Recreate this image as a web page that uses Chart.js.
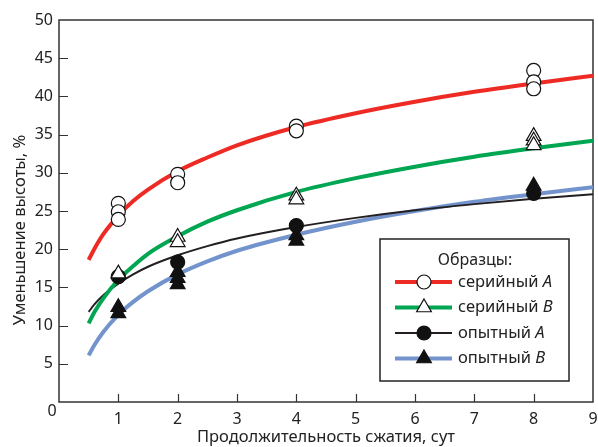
<!DOCTYPE html>
<html>
<head>
<meta charset="utf-8">
<script src="https://cdn.jsdelivr.net/npm/chart.js@4"></script>
<style>
  html, body { margin: 0; padding: 0; background: #fff; }
  #wrap { width: 598px; height: 447px; }
</style>
</head>
<body>
<div id="wrap"><canvas id="chart" width="598" height="447"></canvas></div>
<script>
// trend curves
const fitX = [0.5, 0.6, 0.75, 1, 1.25, 1.5, 2, 2.5, 3, 4, 5, 6, 7, 8, 9];
const fitSerialA = [18.6, 20.1, 22.0, 24.4, 26.3, 27.8, 30.2, 32.0, 33.6, 36.0, 37.8, 39.3, 40.6, 41.7, 42.7];
const fitSerialB = [10.3, 11.8, 13.6, 16.0, 17.8, 19.4, 21.7, 23.6, 25.1, 27.5, 29.3, 30.8, 32.1, 33.2, 34.2];
const fitExpA = [11.8, 12.8, 14.0, 15.5, 16.7, 17.7, 19.2, 20.4, 21.4, 22.9, 24.1, 25.1, 25.9, 26.6, 27.2];
const fitExpB = [6.1, 7.5, 9.2, 11.4, 13.1, 14.5, 16.7, 18.4, 19.8, 21.9, 23.6, 25.0, 26.2, 27.2, 28.1];

// measured points
const serialAX = [1, 1, 1, 2, 2, 4, 4, 8, 8, 8];
const serialAY = [26.0, 24.9, 23.9, 29.8, 28.7, 36.1, 35.5, 43.4, 41.9, 41.0];
const serialBX = [1, 2, 2, 4, 4, 8, 8, 8];
const serialBY = [16.8, 21.6, 20.9, 27.0, 26.5, 34.8, 34.2, 33.6];
const expAX = [1, 2, 4, 8];
const expAY = [16.4, 18.3, 23.1, 27.3];
const expBX = [1, 1, 2, 2, 2, 4, 4, 8];
const expBY = [12.4, 11.6, 17.0, 16.2, 15.4, 21.8, 21.1, 28.3];

const seriesNames = ['серийный ', 'серийный ', 'опытный ', 'опытный '];
const seriesLetters = ['A', 'B', 'A', 'B'];
const seriesColors = ['#ee2a24', '#00a651', '#231f20', '#7393cc'];
const lineWidths = [4, 4, 2, 4];
const markerStyles = ['circle', 'triangle', 'circle', 'triangle'];
const markerFills = ['#ffffff', '#ffffff', '#111111', '#111111'];

const FONT = '"Noto Sans", "Open Sans", sans-serif';
const toXY = (xs, ys) => xs.map((x, i) => ({ x: x, y: ys[i] }));

function pointSet(xs, ys, k) {
    return {
        label: seriesNames[k] + seriesLetters[k],
        data: toXY(xs, ys),
        showLine: false,
        pointStyle: markerStyles[k],
        pointRadius: markerStyles[k] === 'circle' ? 7 : 8.5,
        pointBackgroundColor: markerFills[k],
        pointBorderColor: '#111111',
        pointBorderWidth: 1.2,
        order: 1
    };
}

function fitSet(ys, k) {
    return {
        label: 'fit ' + k,
        data: toXY(fitX, ys),
        showLine: true,
        borderColor: seriesColors[k],
        borderWidth: lineWidths[k],
        pointRadius: 0,
        cubicInterpolationMode: 'monotone',
        fill: false,
        order: 2
    };
}

function drawMarker(ctx, style, x, y, r, fill) {
    ctx.beginPath();
    if (style === 'circle') {
        ctx.arc(x, y, r, 0, Math.PI * 2);
    } else {
        for (let i = 0; i < 3; i++) {
            const a = i * Math.PI * 2 / 3;
            const px = x + Math.sin(a) * r, py = y - Math.cos(a) * r;
            if (i === 0) ctx.moveTo(px, py); else ctx.lineTo(px, py);
        }
        ctx.closePath();
    }
    ctx.fillStyle = fill;
    ctx.fill();
    ctx.lineWidth = 1.2;
    ctx.strokeStyle = '#111111';
    ctx.stroke();
}

// frame, inward ticks, corner zero and y title
const framePlugin = {
    id: 'frame',
    beforeDatasetsDraw(chart) {
        const ctx = chart.ctx, a = chart.chartArea;
        const xs = chart.scales.x, ys = chart.scales.y;
        ctx.save();
        ctx.strokeStyle = '#333333';
        ctx.lineWidth = 1.5;
        ctx.strokeRect(a.left, a.top, a.right - a.left, a.bottom - a.top);
        ctx.lineWidth = 1.2;
        ctx.beginPath();
        ys.ticks.forEach(t => {
            if (t.value <= 0 || t.value >= 50) return;
            const py = Math.round(ys.getPixelForValue(t.value)) + 0.5;
            ctx.moveTo(a.left, py);
            ctx.lineTo(a.left + 9, py);
        });
        xs.ticks.forEach(t => {
            if (t.value <= 0 || t.value >= 9) return;
            const px = Math.round(xs.getPixelForValue(t.value)) + 0.5;
            ctx.moveTo(px, a.bottom);
            ctx.lineTo(px, a.bottom - 8);
        });
        ctx.stroke();

        ctx.fillStyle = '#222222';
        ctx.font = '16px ' + FONT;
        ctx.textAlign = 'center';
        ctx.textBaseline = 'middle';
        ctx.fillText('0', a.left - 7, a.bottom + 9);

        ctx.font = '16.5px ' + FONT;
        ctx.translate(20, 230);
        ctx.rotate(-Math.PI / 2);
        ctx.fillText('Уменьшение высоты, %', 0, 0);
        ctx.restore();
    }
};

// legend box with italic letters
const legendPlugin = {
    id: 'boxLegend',
    afterDraw(chart) {
        const ctx = chart.ctx;
        const bx = 380, by = 239, bw = 189, bh = 142;
        ctx.save();
        ctx.fillStyle = '#ffffff';
        ctx.fillRect(bx, by, bw, bh);
        ctx.strokeStyle = '#222222';
        ctx.lineWidth = 1.5;
        ctx.strokeRect(bx, by, bw, bh);

        ctx.fillStyle = '#222222';
        ctx.font = '16px ' + FONT;
        ctx.textAlign = 'center';
        ctx.textBaseline = 'middle';
        ctx.fillText('Образцы:', 475, 260);

        for (let k = 0; k < 4; k++) {
            const y = 282 + k * 25.5;
            ctx.beginPath();
            ctx.moveTo(395, y);
            ctx.lineTo(452, y);
            ctx.strokeStyle = seriesColors[k];
            ctx.lineWidth = lineWidths[k];
            ctx.stroke();
            drawMarker(ctx, markerStyles[k], 424, y, markerStyles[k] === 'circle' ? 7 : 8.5, markerFills[k]);

            ctx.fillStyle = '#222222';
            ctx.textAlign = 'left';
            ctx.font = '16.5px ' + FONT;
            ctx.fillText(seriesNames[k], 458, y);
            const w = ctx.measureText(seriesNames[k]).width;
            ctx.font = 'italic 16.5px ' + FONT;
            ctx.fillText(seriesLetters[k], 458 + w, y);
        }
        ctx.restore();
    }
};

new Chart(document.getElementById('chart').getContext('2d'), {
    type: 'scatter',
    data: {
        datasets: [
            pointSet(serialAX, serialAY, 0),
            pointSet(serialBX, serialBY, 1),
            pointSet(expAX, expAY, 2),
            pointSet(expBX, expBY, 3),
            fitSet(fitSerialA, 0),
            fitSet(fitSerialB, 1),
            fitSet(fitExpA, 2),
            fitSet(fitExpB, 3)
        ]
    },
    options: {
        responsive: false,
        animation: false,
        layout: { autoPadding: false, padding: { top: 20, right: 5, left: 0, bottom: 0 } },
        plugins: {
            legend: { display: false },
            tooltip: { enabled: false }
        },
        scales: {
            x: {
                type: 'linear',
                min: 0,
                max: 9,
                grid: { display: false, drawTicks: false },
                border: { display: false },
                ticks: {
                    stepSize: 1,
                    padding: 8,
                    color: '#222222',
                    font: { family: FONT, size: 16 },
                    callback: v => (v === 0 ? '' : v)
                },
                title: {
                    display: true,
                    text: 'Продолжительность сжатия, сут',
                    color: '#222222',
                    font: { family: FONT, size: 16.5 },
                    padding: { top: 0, bottom: 0 }
                },
                afterFit: scale => {
                    scale.height = 45;
                    scale.paddingRight = 0;
                    scale.paddingLeft = 0;
                }
            },
            y: {
                min: 0,
                max: 50,
                grid: { display: false, drawTicks: false },
                border: { display: false },
                ticks: {
                    stepSize: 5,
                    padding: 6,
                    color: '#222222',
                    font: { family: FONT, size: 16 },
                    callback: v => (v === 0 ? '' : v)
                },
                afterFit: scale => {
                    scale.width = 59;
                    scale.paddingTop = 0;
                    scale.paddingBottom = 0;
                }
            }
        }
    },
    plugins: [framePlugin, legendPlugin]
});
</script>
</body>
</html>
